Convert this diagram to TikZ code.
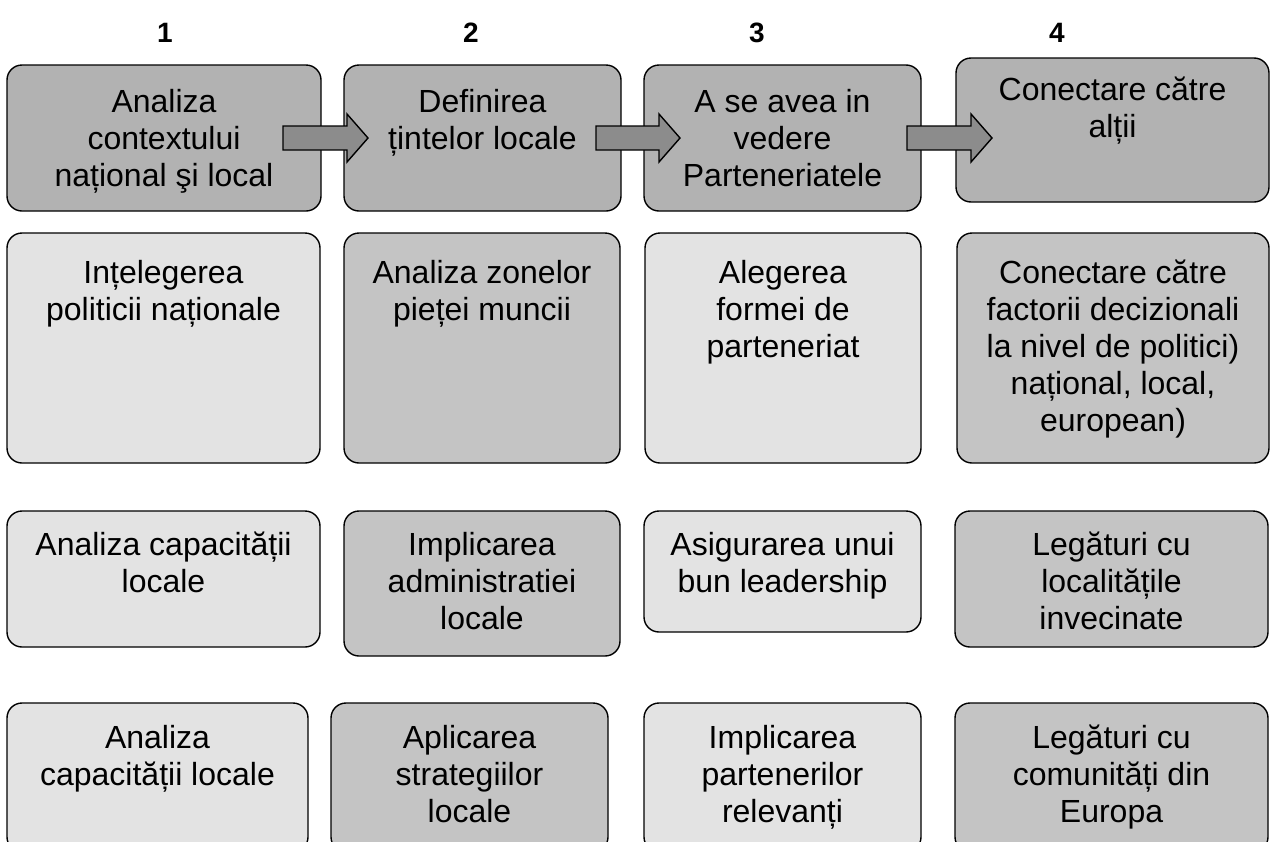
\documentclass[tikz,border=0pt]{standalone}
\usepackage{fontspec}
\setmainfont{Liberation Sans}
\usetikzlibrary{fit}
\definecolor{cTop}{RGB}{178,178,178}
\definecolor{cArrow}{RGB}{140,140,140}
\definecolor{cLight}{RGB}{227,227,227}
\definecolor{cMid}{RGB}{196,196,196}
\newcommand\tb[1]{\parbox[t]{330pt}{\centering #1}}
\newcommand\blockarrow[4]{%
  \draw[barrow] (#1,126) -- (#2,126) -- (#2,114) -- (#3,138) -- (#2,162) -- (#2,150) -- (#1,150) -- cycle;
  \coordinate (#4) at (#3,138);}
\begin{document}
\begin{tikzpicture}[x=1pt,y=-1pt,
  box/.style={draw=black, line width=1.4pt, rounded corners=15pt, inner sep=0pt},
  txt/.style={anchor=base, inner sep=0pt, font=\fontsize{32}{37}\selectfont},
  hdr/.style={anchor=base, inner sep=0pt, font=\fontsize{28}{32}\selectfont\bfseries},
  barrow/.style={draw=black, line width=1.4pt, fill=cArrow, line join=miter}]
\useasboundingbox (0,0) rectangle (1271,841);
\clip (0,0) rectangle (1271,841);
\fill[white] (0,0) rectangle (1271,841);

% headers
\node[hdr] (h1) at (165,42) {1};
\node[hdr] (h2) at (471,42) {2};
\node[hdr] (h3) at (757,42) {3};
\node[hdr] (h4) at (1057,42) {4};

% row 1
\node[box, fill=cTop, fit={(7,65) (321,211)}] (b11) {};
\node[box, fill=cTop, fit={(344,65) (621,211)}] (b12) {};
\node[box, fill=cTop, fit={(644,65) (921,211)}] (b13) {};
\node[box, fill=cTop, fit={(956,58) (1269,202)}] (b14) {};
\node[txt] (t11) at (164,112) {\tb{Analiza\\contextului\\național şi local}};
\node[txt] (t12) at (482.5,112) {\tb{Definirea\\țintelor locale}};
\node[txt] (t13) at (782.5,112) {\tb{A se avea in\\vedere\\Parteneriatele}};
\node[txt] (t14) at (1112.5,100) {\tb{Conectare către\\alții}};

% arrows
\blockarrow{283}{347}{368}{a1}
\blockarrow{596}{659}{680}{a2}
\blockarrow{907}{971}{992}{a3}

% row 2
\node[box, fill=cLight, fit={(7,233) (320,463)}] (b21) {};
\node[box, fill=cMid, fit={(344,233) (620,463)}] (b22) {};
\node[box, fill=cLight, fit={(645,233) (921,463)}] (b23) {};
\node[box, fill=cMid, fit={(957,233) (1269,463)}] (b24) {};
\node[txt] (t21) at (163.5,283) {\tb{Ințelegerea\\politicii naționale}};
\node[txt] (t22) at (482,283) {\tb{Analiza zonelor\\pieței muncii}};
\node[txt] (t23) at (783,283) {\tb{Alegerea\\formei de\\parteneriat}};
\node[txt] (t24) at (1113,283) {\tb{Conectare către\\factorii decizionali\\la nivel de politici)\\național, local,\\european)}};

% row 3
\node[box, fill=cLight, fit={(7,511) (320,647)}] (b31) {};
\node[box, fill=cMid, fit={(344,511) (620,656)}] (b32) {};
\node[box, fill=cLight, fit={(644,511) (921,632)}] (b33) {};
\node[box, fill=cMid, fit={(955,511) (1268,647)}] (b34) {};
\node[txt] (t31) at (163.5,555) {\tb{Analiza capacității\\locale}};
\node[txt] (t32) at (482,555) {\tb{Implicarea\\administratiei\\locale}};
\node[txt] (t33) at (782.5,555) {\tb{Asigurarea unui\\bun leadership}};
\node[txt] (t34) at (1111.5,555) {\tb{Legături cu\\localitățile\\invecinate}};

% row 4
\node[box, fill=cLight, fit={(7,703) (308,852)}] (b41) {};
\node[box, fill=cMid, fit={(331,703) (608,852)}] (b42) {};
\node[box, fill=cLight, fit={(644,703) (921,852)}] (b43) {};
\node[box, fill=cMid, fit={(955,703) (1268,852)}] (b44) {};
\node[txt] (t41) at (157.5,748) {\tb{Analiza\\capacității locale}};
\node[txt] (t42) at (469.5,748) {\tb{Aplicarea\\strategiilor\\locale}};
\node[txt] (t43) at (782.5,748) {\tb{Implicarea\\partenerilor\\relevanți}};
\node[txt] (t44) at (1111.5,748) {\tb{Legături cu\\comunități din\\Europa}};
\end{tikzpicture}
\end{document}
